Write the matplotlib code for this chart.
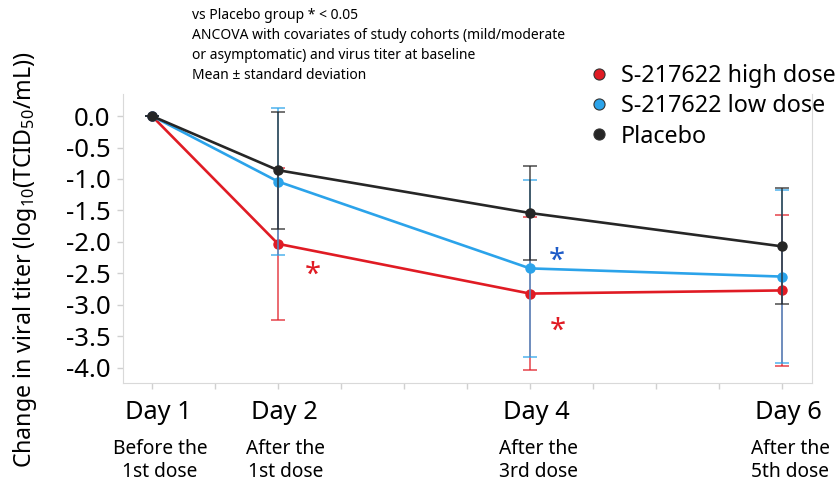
import numpy as np
import matplotlib
matplotlib.use("Agg")
import matplotlib.pyplot as plt
from matplotlib.lines import Line2D

plt.rcParams['font.family'] = ['Noto Sans', 'DejaVu Sans']
plt.rcParams['mathtext.fontset'] = 'custom'
plt.rcParams['mathtext.rm'] = 'Noto Sans'
plt.rcParams['mathtext.it'] = 'Noto Sans:italic'
plt.rcParams['axes.unicode_minus'] = False

# days of measurement and visit labels
days = [1, 2, 4, 6]
day_labels = ['Day 1', 'Day 2', 'Day 4', 'Day 6']
visit_labels = ['Before the\n1st dose', 'After the\n1st dose', 'After the\n3rd dose', 'After the\n5th dose']

# change from baseline, mean and SD
high_mean = [0.0, -2.03, -2.82, -2.77]
high_sd = [0.0, 1.21, 1.21, 1.20]
low_mean = [0.0, -1.04, -2.42, -2.55]
low_sd = [0.0, 1.17, 1.41, 1.37]
plac_mean = [0.0, -0.86, -1.54, -2.07]
plac_sd = [0.0, 0.93, 0.74, 0.92]

names = ['S-217622 high dose', 'S-217622 low dose', 'Placebo']
colors = ['#e01b24', '#2ba3ea', '#262626']

# significance marks (x, y, colour)
star_x = [2.28, 4.21, 4.22]
star_y = [-2.53, -2.31, -3.42]
star_c = ['#e01b24', '#1f5cc8', '#e01b24']

fig = plt.figure(figsize=(8.4, 4.82), dpi=100)
ax = fig.add_axes([0.1464, 0.2054, 0.8203, 0.5996])

series = [(high_mean, high_sd), (low_mean, low_sd), (plac_mean, plac_sd)]
for i, ((m, s), c) in enumerate(zip(series, colors)):
    eb = ax.errorbar(days, m, yerr=s, color=c, ecolor=c, elinewidth=1.4,
                     capsize=4.7, capthick=1.4, lw=1.9, marker='o', ms=6.5,
                     zorder=2 + i)
    for part in eb[1] + eb[2]:
        part.set_alpha(0.65)

for x, y, c in zip(star_x, star_y, star_c):
    ax.text(x, y, '*', color=c, fontsize=21, ha='center', va='center')

ax.set_xlim(0.77, 6.238)
ax.set_ylim(-4.24, 0.35)
ax.set_yticks(np.arange(0, -4.01, -0.5))
ax.set_yticklabels([f'{v:.1f}' for v in np.arange(0, -4.01, -0.5)], fontsize=18.5)
ax.set_xticks(np.arange(1, 6.01, 0.5))
ax.set_xticklabels([])
ax.tick_params(axis='both', color='#d0d0d0', length=4, width=1)
ax.tick_params(axis='y', pad=5)

for side in ['left', 'bottom', 'right']:
    ax.spines[side].set_color('#d9d9d9')
ax.spines['top'].set_visible(False)

# day names under the axis, visit description below them
tr = ax.get_xaxis_transform()
for d, dl, vl in zip(days, day_labels, visit_labels):
    ax.annotate(dl, (d, 0), xycoords=tr, xytext=(6, -30), textcoords='offset pixels',
                ha='center', va='center', fontsize=18.3)
    ax.annotate(vl, (d, 0), xycoords=tr, xytext=(8, -78), textcoords='offset pixels',
                ha='center', va='center', fontsize=13.8, linespacing=1.2)

fig.text(25 / 840, 1 - 260 / 482, 'Change in viral titer (log$_{10}$(TCID$_{50}$/mL))',
         rotation=90, ha='center', va='center', fontsize=16.7)

fig.text(192 / 840, 1 - 8 / 482,
         'vs Placebo group * < 0.05\n'
         'ANCOVA with covariates of study cohorts (mild/moderate\n'
         'or asymptomatic) and virus titer at baseline\n'
         'Mean \u00b1 standard deviation',
         ha='left', va='top', fontsize=10, linespacing=1.45)

handles = [Line2D([], [], ls='none', marker='o', ms=8, color=c, markeredgecolor='#333333',
                  markeredgewidth=0.8) for c in colors]
fig.legend(handles, names, loc='upper left', bbox_to_anchor=(585 / 840, 1 - 64 / 482),
           frameon=False, fontsize=16.8, handletextpad=0.35, labelspacing=0.27,
           borderaxespad=0, borderpad=0, handlelength=1.2)

fig.savefig('out.png', dpi=100)
